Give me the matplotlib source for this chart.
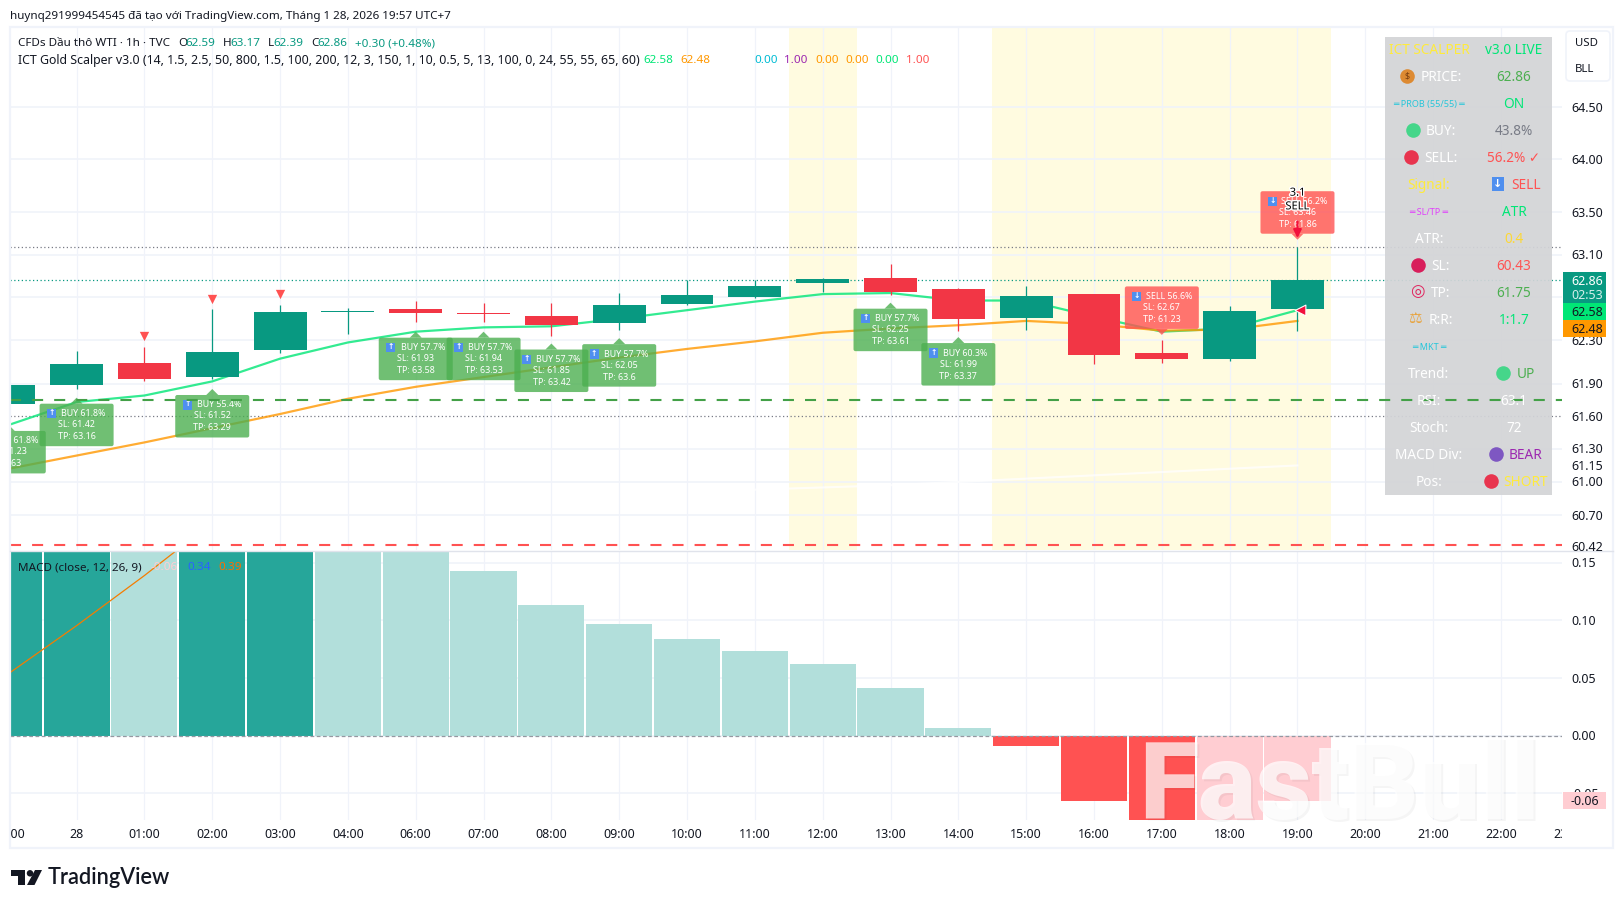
import matplotlib
matplotlib.use("Agg")
import matplotlib.pyplot as plt
import matplotlib.patheffects as pe
from matplotlib.patches import FancyBboxPatch, Polygon, Rectangle, Ellipse
from matplotlib.transforms import IdentityTransform, Bbox, TransformedBbox, blended_transform_factory

plt.rcParams["font.family"] = ["Noto Sans", "DejaVu Sans"]

# candles, index 0 is the "28" bar
bar_idx = list(range(-1, 19))
opens = [61.71, 61.89, 62.09, 61.96, 62.21, 62.56, 62.59, 62.55, 62.53, 62.46, 62.64, 62.70, 62.83, 62.88, 62.78, 62.51, 62.73, 62.18, 62.13, 62.59]
closes = [61.89, 62.08, 61.94, 62.19, 62.56, 62.57, 62.55, 62.54, 62.44, 62.63, 62.72, 62.81, 62.87, 62.75, 62.50, 62.71, 62.16, 62.13, 62.57, 62.86]
highs = [61.89, 62.20, 62.24, 62.59, 62.63, 62.60, 62.67, 62.65, 62.65, 62.74, 62.86, 62.86, 62.88, 63.01, 62.79, 62.81, 62.73, 62.30, 62.62, 63.17]
lows = [61.71, 61.85, 61.92, 61.94, 62.18, 62.36, 62.47, 62.47, 62.34, 62.40, 62.63, 62.69, 62.75, 62.72, 62.39, 62.40, 62.08, 62.09, 62.11, 62.39]

ema_fast = [61.52, 61.73, 61.79, 61.92, 62.13, 62.28, 62.38, 62.42, 62.43, 62.50, 62.58, 62.66, 62.73, 62.74, 62.67, 62.67, 62.52, 62.38, 62.41, 62.58]
ema_slow = [61.12, 61.24, 61.36, 61.49, 61.62, 61.76, 61.87, 61.96, 62.05, 62.14, 62.22, 62.29, 62.37, 62.41, 62.44, 62.48, 62.45, 62.39, 62.40, 62.48]
ema_long_idx = [10, 11, 12, 13, 14, 15, 16, 17, 18]
ema_long = [60.93, 60.95, 60.97, 61.00, 61.03, 61.06, 61.09, 61.12, 61.15]

# macd pane
hist = [0.159, 0.17, 0.165, 0.18, 0.22, 0.20, 0.18, 0.143, 0.1134, 0.097, 0.084, 0.0735, 0.0622, 0.0414, 0.0067, -0.009, -0.0567, -0.076, -0.074, -0.0567]
hist_colors = ["#26A69A", "#26A69A", "#B2DFDB", "#26A69A", "#26A69A", "#B2DFDB", "#B2DFDB", "#B2DFDB", "#B2DFDB", "#B2DFDB",
               "#B2DFDB", "#B2DFDB", "#B2DFDB", "#B2DFDB", "#B2DFDB", "#FF5252", "#FF5252", "#FF5252", "#FFCDD2", "#FFCDD2"]
signal = [0.054, 0.0955, 0.139, 0.185, 0.24, 0.29, 0.33, 0.36, 0.385, 0.40, 0.41, 0.42, 0.42, 0.42, 0.41, 0.41, 0.40, 0.40, 0.39, 0.39]

# axis labels
time_idx = list(range(-1, 23))
time_labels = ["23:00", "28", "01:00", "02:00", "03:00", "04:00", "06:00", "07:00", "08:00", "09:00", "10:00", "11:00", "12:00",
               "13:00", "14:00", "15:00", "16:00", "17:00", "18:00", "19:00", "20:00", "21:00", "22:00", "23:00"]
price_ticks = [64.50, 64.00, 63.50, 63.10, 62.30, 61.90, 61.60, 61.30, 61.15, 61.00, 60.70, 60.42]
price_grid = [64.50, 64.00, 63.50, 63.10, 62.70, 62.30, 61.90, 61.30, 61.00, 60.70]
macd_ticks = [0.15, 0.10, 0.05, 0.00, -0.05]

# signal labels
buy_idx = [-1, 0, 2, 5, 6, 7, 8, 12, 13]
buy_tip = [61.52, 61.77, 61.85, 62.38, 62.38, 62.27, 62.32, 62.65, 62.33]
buy_pct = ["61.8%", "61.8%", "55.4%", "57.7%", "57.7%", "57.7%", "57.7%", "57.7%", "60.3%"]
buy_sl = ["61.23", "61.42", "61.52", "61.93", "61.94", "61.85", "62.05", "62.25", "61.99"]
buy_tp = ["63", "63.16", "63.29", "63.58", "63.53", "63.42", "63.6", "63.61", "63.37"]
sell_idx = [16, 18]
sell_tip = [62.35, 63.24]
sell_pct = ["56.6%", "56.2%"]
sell_sl = ["62.67", "63.46"]
sell_tp = ["61.23", "61.86"]
tri_idx = [1, 2, 3]
tri_price = [62.34, 62.68, 62.73]

W, H = 1624, 908
TEAL = "#089981"
RED = "#F23645"
INK = "#131722"


def fx(px):
    return px / W


def fy(py):
    return 1 - py / H


fig = plt.figure(figsize=(W / 100, H / 100), dpi=100, facecolor="white")
L, R = 10.4, 1562
ax = fig.add_axes([fx(L), fy(550), fx(R - L), (550 - 27.5) / H])
ax2 = fig.add_axes([fx(L), fy(820), fx(R - L), (820 - 551) / H])

x0, x1 = -0.976, 21.9
ax.set_yscale("log")
ax.set_ylim(60.385, 65.27)
ax.set_xlim(x0, x1)
ax2.set_ylim(-0.0732, 0.1603)
ax2.set_xlim(x0, x1)
ax.autoscale(False)
ax2.autoscale(False)

for a in (ax, ax2):
    for s in a.spines.values():
        s.set_visible(False)
    a.set_xticks([])
    a.set_yticks([])
    a.minorticks_off()
    a.tick_params(which="both", length=0, labelleft=False, labelbottom=False)
    for i in time_idx:
        a.axvline(i, color="#F0F3FA", lw=0.9, zorder=0.5)

for p in price_grid:
    ax.axhline(p, color="#F0F3FA", lw=1.2, zorder=0.5)
for v in macd_ticks:
    ax2.axhline(v, color="#F0F3FA", lw=1.2, zorder=0.5)

# session background
ax.axvspan(10.5, 11.5, color="#FFFBE0", lw=0, zorder=0.2)
ax.axvspan(13.5, 18.5, color="#FFFBE0", lw=0, zorder=0.2)

# level lines
dot = (0, (1, 2))
ax.axhline(63.17, color="#787B86", lw=0.9, ls=dot, zorder=1)
ax.axhline(61.6, color="#787B86", lw=0.9, ls=dot, zorder=1)
ax.axhline(62.86, color=TEAL, lw=0.9, ls=dot, zorder=1)
ax.axhline(61.75, color="#43A047", lw=1.5, ls=(0, (5.3, 5.3)), zorder=6.5)
ax.axhline(60.43, color="#FF5252", lw=1.5, ls=(0, (5.3, 5.3)), zorder=1)

# emas
ax.plot(bar_idx, ema_fast, color="#00E676", alpha=0.8, lw=1.6, zorder=2)
ax.plot(bar_idx, ema_slow, color="#FF9800", alpha=0.8, lw=1.6, zorder=2)
ax.plot(ema_long_idx, ema_long, color="white", alpha=0.75, lw=1.5, zorder=1.5)

# candles
for i, o, c, h, l in zip(bar_idx, opens, closes, highs, lows):
    col = TEAL if c >= o else RED
    ax.vlines(i, l, h, color=col, lw=0.9, zorder=3)
    ax.bar(i, abs(c - o), bottom=min(o, c), width=0.78, color=col, lw=0, zorder=3.2)

ax.scatter(tri_idx, tri_price, marker="v", s=45, color="#FF5252", lw=0, zorder=4)


def callout(idx, tip, pct, sl, tp, face, word, up):
    px, py = ax.transData.transform((idx, tip))
    bw, bh, th = 74, 42.5, 6
    if up:
        top = py - th
        bot = top - bh
        tri = [(px - 6, top), (px + 6, top), (px, py)]
    else:
        bot = py + th
        top = bot + bh
        tri = [(px - 6, bot), (px + 6, bot), (px, py)]
    ax.add_patch(FancyBboxPatch((px - bw / 2 + 2, bot + 2), bw - 4, bh - 4, boxstyle="round,pad=2,rounding_size=2",
                                fc=face, ec="none", alpha=0.8, transform=IdentityTransform(), zorder=5))
    ax.add_patch(Polygon(tri, closed=True, fc=face, ec="none", alpha=0.8, transform=IdentityTransform(), zorder=5))
    kw = dict(transform=IdentityTransform(), color="white", fontsize=6.4, ha="center", va="center", zorder=5.2, clip_on=True)
    ax.text(px + 7, top - 10, f"{word} {pct}", **kw)
    ax.text(px, top - 21, f"SL: {sl}", **kw)
    ax.text(px, top - 33, f"TP: {tp}", **kw)
    arrow = "\u2191" if up else "\u2193"
    ax.text(px - 25, top - 10, arrow, transform=IdentityTransform(), color="white", fontsize=5.5, fontweight="bold",
            ha="center", va="center", zorder=5.3, clip_on=True,
            bbox=dict(boxstyle="square,pad=0.15", fc="#4F8FEF", ec="none"))


for i, t, a, b, c in zip(buy_idx, buy_tip, buy_pct, buy_sl, buy_tp):
    callout(i, t, a, b, c, "#4CAF50", "BUY", True)
for i, t, a, b, c in zip(sell_idx, sell_tip, sell_pct, sell_sl, sell_tp):
    callout(i, t, a, b, c, "#FF5252", "SELL", False)

# last bar signal marks
halo = [pe.withStroke(linewidth=2, foreground="white")]
ax.annotate("", xy=(18, 63.23), xytext=(18, 63.44),
            arrowprops=dict(arrowstyle="-|>", color="#F2103C", lw=1.5, mutation_scale=12), zorder=5.6)
ax.scatter([18.04], [62.58], marker="<", s=60, color="#F2103C", edgecolor="white", lw=0.8, zorder=5.6)
ax.text(18, 63.68, "3.1", color="black", fontsize=8, ha="center", va="center", zorder=5.7, path_effects=halo)
ax.text(18, 63.55, "SELL", color="black", fontsize=8, ha="center", va="center", zorder=5.7, path_effects=halo)

# info table
tr = fig.transFigure
ax.add_patch(Rectangle((fx(1385), fy(494.7)), fx(1552 - 1385), (494.7 - 36.7) / H, fc="#D3D4D7", ec="none", alpha=0.93,
                       transform=tr, clip_on=False, zorder=6))

left_text = ["ICT SCALPER", "PRICE:", "\u2550 PROB (55/55) \u2550", "BUY:", "SELL:", "Signal:", "\u2550 SL/TP \u2550", "ATR:", "SL:", "TP:",
             "R:R:", "\u2550 MKT \u2550", "Trend:", "RSI:", "Stoch:", "MACD Div:", "Pos:"]
left_color = ["#FFEB3B", "white", "#26C6DA", "white", "white", "#FFEB3B", "#E040FB", "white", "white", "white",
              "white", "#26C6DA", "white", "white", "white", "white", "white"]
right_text = ["v3.0 LIVE", "62.86", "ON", "43.8%", "56.2% \u2713", "SELL", "ATR", "0.4", "60.43", "61.75",
              "1:1.7", "", "UP", "63.1", "72", "BEAR", "SHORT"]
right_color = ["#00E676", "#4CAF50", "#00E676", "#787B86", "#FF5252", "#FF5252", "#00E676", "#FDD835", "#FF5252", "#4CAF50",
               "#00E676", "white", "#4CAF50", "white", "white", "#9C27B0", "#FFEB3B"]

small_rows = (2, 6, 11)
icon_rows = (1, 3, 4, 8, 9, 10)
shift_rows = (5, 12, 15, 16)
for r in range(17):
    yy = fy(50.3 + 27 * r)
    lx = 1441 if r in icon_rows else 1429
    rx = 1526 if r in shift_rows else 1514
    fs = 6.5 if r in small_rows else 9.8
    ax.text(fx(lx), yy, left_text[r], color=left_color[r], fontsize=fs, ha="center", va="center", transform=tr, clip_on=False, zorder=7)
    ax.text(fx(rx), yy, right_text[r], color=right_color[r], fontsize=9.8, ha="center", va="center", transform=tr, clip_on=False, zorder=7)


def ball(px, row, color):
    ax.plot([fx(px)], [fy(49.3 + 27 * row)], "o", ms=10.5, mfc=color, mec="none", transform=tr, clip_on=False, zorder=7)


ball(1407, 1, "#DD8A32")
ax.text(fx(1407), fy(76.3), "$", color="#7A3E10", fontsize=6.5, fontweight="bold", ha="center", va="center", transform=tr, zorder=7.1)
ball(1413, 3, "#45D68A")
ball(1411, 4, "#E8344E")
ball(1418, 8, "#D81E5B")
ball(1503, 12, "#45D68A")
ball(1496, 15, "#7E57C2")
ball(1491, 16, "#E8344E")
ax.text(fx(1417), fy(49.3 + 27 * 9), "\u25CE", color="#E0245E", fontsize=12, fontweight="bold", ha="center", va="center", transform=tr, zorder=7)
ax.text(fx(1415), fy(49.3 + 27 * 10), "\u2696", color="#E8A33D", fontsize=11, ha="center", va="center", transform=tr, zorder=7)
ax.text(fx(1498), fy(49.3 + 27 * 5), "\u2193", color="white", fontsize=8, fontweight="bold", ha="center", va="center", transform=tr, zorder=7,
        bbox=dict(boxstyle="square,pad=0.15", fc="#4F8FEF", ec="none"))

# macd pane
ax2.bar(bar_idx, hist, width=0.975, color=hist_colors, lw=0, zorder=2)
ax2.plot(bar_idx, signal, color="#F57C00", lw=0.9, zorder=3)
ax2.axhline(0, color="#9598A1", lw=0.9, ls=(0, (3, 2)), zorder=2.5)

# frame and separators
fig.add_artist(Rectangle((fx(10), fy(847.5)), fx(1613.5 - 10), (847.5 - 27) / H, fc="none", ec="#F0F3FA", lw=1.6, transform=tr))
fig.add_artist(plt.Line2D([fx(10), fx(1613.5)], [fy(550.5), fy(550.5)], color="#E0E3EB", lw=1, transform=tr))

# price axis labels
for p in price_ticks:
    yy = ax.transData.transform((0, p))[1] / H
    fig.text(fx(1571), yy - 1 / H, f"{p:.2f}", color=INK, fontsize=9, ha="left", va="center")
for v in macd_ticks:
    yy = ax2.transData.transform((0, v))[1] / H
    fig.text(fx(1571), yy - 1 / H, f"{v:.2f}", color=INK, fontsize=9, ha="left", va="center")

# price tags
fig.add_artist(Rectangle((fx(1563), fy(303)), fx(43), 31 / H, fc=TEAL, ec="none", transform=tr, zorder=3.5))
fig.add_artist(Rectangle((fx(1563), fy(320)), fx(43), 17 / H, fc="#00E676", ec="none", transform=tr, zorder=3.5))
fig.add_artist(Rectangle((fx(1563), fy(337)), fx(43), 17 / H, fc="#FF9800", ec="none", transform=tr, zorder=3.5))
fig.add_artist(Rectangle((fx(1563), fy(809)), fx(43), 17 / H, fc="#FFCDD2", ec="none", transform=tr, zorder=3.5))
fig.text(fx(1571), fy(281.5), "62.86", color="white", fontsize=9, va="center", zorder=4)
fig.text(fx(1571), fy(295.5), "02:53", color="#D5EFEA", fontsize=9, va="center", zorder=4)
fig.text(fx(1571), fy(312.5), "62.58", color=INK, fontsize=9, va="center", zorder=4)
fig.text(fx(1571), fy(329.5), "62.48", color=INK, fontsize=9, va="center", zorder=4)
fig.text(fx(1571), fy(801.5), "-0.06", color=INK, fontsize=9, va="center", zorder=4)

# currency box
fig.add_artist(FancyBboxPatch((1568, H - 79), 40, 46, boxstyle="round,pad=2,rounding_size=4", fc="white", ec="#F0F3FA", lw=1.2,
                              transform=IdentityTransform()))
fig.text(fx(1575), fy(44), "USD", color=INK, fontsize=8.2, va="center", zorder=4)
fig.text(fx(1575), fy(70), "BLL", color=INK, fontsize=8.2, va="center", zorder=4)

# time axis
time_tr = blended_transform_factory(ax2.transData, fig.transFigure)
clip = TransformedBbox(Bbox([[fx(L), 0], [fx(R), 1]]), fig.transFigure)
for i, lab in zip(time_idx, time_labels):
    t = fig.text(i, fy(834), lab, color=INK, fontsize=9, ha="center", va="center", transform=time_tr)
    t.set_clip_box(clip)
    t.set_clip_on(True)

# header and legends
fig.text(fx(10), fy(16), "huynq291999454545 đã tạo với TradingView.com, Tháng 1 28, 2026 19:57 UTC+7", color=INK, fontsize=8.4, va="center")
leg1 = [(18, "CFDs Dầu thô WTI · 1h · TVC", INK), (178, "O", INK), (185.5, "62.59", TEAL), (223, "H", INK), (230.6, "63.17", TEAL),
        (268, "L", INK), (273.5, "62.39", TEAL), (311, "C", INK), (317, "62.86", TEAL), (355, "+0.30 (+0.48%)", TEAL)]
leg2 = [(643, "62.58", "#00E676"), (680, "62.48", "#FF9800"), (754, "0.00", "#00BCD4"), (784, "1.00", "#9C27B0"),
        (815, "0.00", "#FF9800"), (845, "0.00", "#FF9800"), (875.5, "0.00", "#00E676"), (906, "1.00", "#FF5252")]
leg3 = [(18, "MACD (close, 12, 26, 9)", INK), (151, "-0.06", "#FFCDD2"), (187.6, "0.34", "#2962FF"), (218, "0.39", "#FF6D00")]
for row_y, row in ((43.5, leg1), (60.5, leg2), (568, leg3)):
    for xp, s, col in row:
        fig.text(fx(xp), fy(row_y), s, color=col, fontsize=8.4, va="center", zorder=4)
fig.text(fx(18), fy(60.5), "ICT Gold Scalper v3.0 (14, 1.5, 2.5, 50, 800, 1.5, 100, 200, 12, 3, 150, 1, 10, 0.5, 5, 13, 100, 0, 24, 55, 55, 65, 60)",
         color=INK, fontsize=8.9, va="center", zorder=4)

# watermark
mark = dict(fontsize=78, fontweight=900, ha="center", va="center", family=["Roboto", "DejaVu Sans"])
fig.text(fx(1341), fy(792), "FastBull", color="black", alpha=0.04, zorder=5, **mark)
fig.text(fx(1339), fy(790), "FastBull", color="white", alpha=0.72, zorder=5.1, **mark)

# logo
fig.add_artist(Polygon([(fx(11), fy(870)), (fx(25), fy(870)), (fx(25), fy(885)), (fx(18.5), fy(885)), (fx(18.5), fy(875.5)), (fx(11), fy(875.5))],
                       closed=True, fc="#131722", ec="none", transform=tr))
fig.add_artist(Ellipse((fx(30), fy(873.3)), 6.5 / W, 6.5 / H, fc="#131722", ec="none", transform=tr))
fig.add_artist(Polygon([(fx(35), fy(870)), (fx(42), fy(870)), (fx(34.5), fy(885)), (fx(27), fy(885))], closed=True, fc="#131722", ec="none", transform=tr))
fig.text(fx(48), fy(878), "TradingView", color="#131722", fontsize=15.7, fontweight="semibold", va="center", family=["Lato", "DejaVu Sans"])

fig.savefig("out.png", dpi=100, facecolor="white")
